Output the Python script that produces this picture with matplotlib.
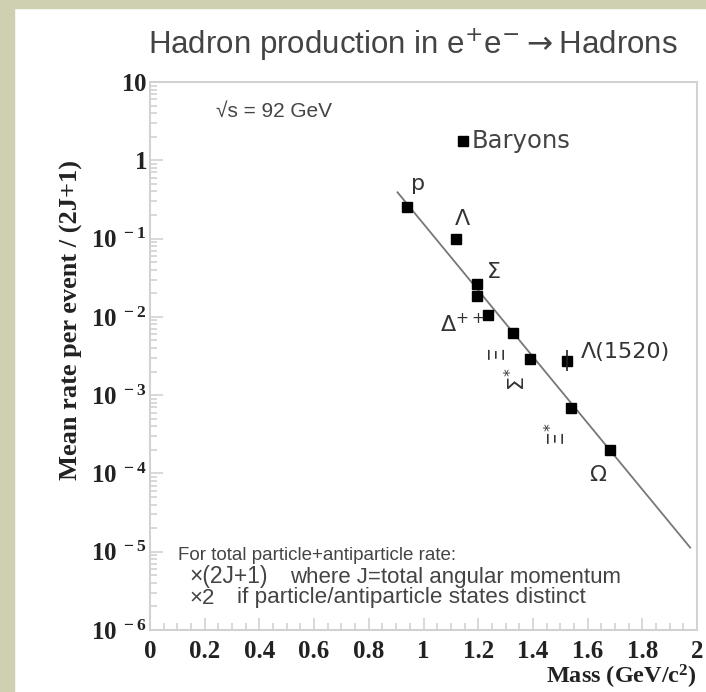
import numpy as np
import matplotlib
matplotlib.use("Agg")
import matplotlib.pyplot as plt
from matplotlib.patches import Rectangle
from matplotlib.ticker import FixedLocator, LogLocator, FuncFormatter, MultipleLocator

# Baryon data
names = ["p", "Lambda", "Sigma_a", "Sigma_b", "Delta++", "Xi", "Sigma*", "Lambda1520", "Xi*", "Omega"]
mass = [0.94, 1.119, 1.196, 1.196, 1.236, 1.327, 1.389, 1.524, 1.539, 1.682]
rate = [0.25, 0.099, 0.0263, 0.0185, 0.0106, 0.0062, 0.0029, 0.00274, 0.00069, 0.0002]

l1520_err_lo = [0.0007]
l1520_err_hi = [0.001]

# straight-line (exponential) trend drawn in the figure
fit_mass = [0.905, 1.975]
fit_rate = [0.39, 1.13e-5]

xticks = [0, 0.2, 0.4, 0.6, 0.8, 1, 1.2, 1.4, 1.6, 1.8, 2]
yticks = [1e-6, 1e-5, 1e-4, 1e-3, 1e-2, 1e-1, 1, 10]

plt.rcParams["mathtext.fontset"] = "custom"
plt.rcParams["mathtext.rm"] = "Liberation Serif:bold"
plt.rcParams["mathtext.bf"] = "Liberation Serif:bold"
plt.rcParams["mathtext.it"] = "Liberation Serif:bold"

fig = plt.figure(figsize=(7.06, 6.92), dpi=100)
fig.patch.set_facecolor("white")
khaki = "#cfcfb2"
fig.patches.append(Rectangle((0, 0), 14 / 706, 1, transform=fig.transFigure, color=khaki, zorder=-10))
fig.patches.append(Rectangle((0, 1 - 8 / 692), 1, 8 / 692, transform=fig.transFigure, color=khaki, zorder=-10))

ax = fig.add_axes([150 / 706, 1 - 630 / 692, 547 / 706, 548 / 692])
ax.set_yscale("log")
ax.set_xlim(0, 2)
ax.set_ylim(1e-6, 10)

gray = "#d2d2d2"
for s in ax.spines.values():
    s.set_color(gray)
    s.set_linewidth(1.5)

ax.plot(fit_mass, fit_rate, color="#777777", lw=1.3, zorder=2)
ax.plot(mass, rate, "s", color="black", ms=7, zorder=3)
i = names.index("Lambda1520")
ax.errorbar([mass[i]], [rate[i]], yerr=[l1520_err_lo, l1520_err_hi], fmt="none",
            ecolor="#222222", elinewidth=1.2, capsize=0, zorder=3)

ax.xaxis.set_major_locator(FixedLocator(xticks))
ax.xaxis.set_minor_locator(MultipleLocator(0.05))
ax.yaxis.set_major_locator(FixedLocator(yticks))
ax.yaxis.set_minor_locator(LogLocator(base=10, subs=np.arange(2, 10), numticks=20))


def ylab(v, pos):
    e = int(round(np.log10(v)))
    if e == 0:
        return r"$1^{\quad\,}$"
    if e == 1:
        return r"$10^{\quad\,}$"
    return r"$10^{\ %d}$" % e


ax.yaxis.set_major_formatter(FuncFormatter(ylab))
ax.xaxis.set_major_formatter(FuncFormatter(lambda v, p: "%g" % v))
ax.tick_params(which="both", direction="in", color=gray, width=1.2)
ax.tick_params(which="major", length=9)
ax.tick_params(which="minor", length=5)
ax.tick_params(axis="x", pad=7)
ax.tick_params(axis="y", pad=2)
for t in ax.get_xticklabels() + ax.get_yticklabels():
    t.set_fontfamily("Liberation Serif")
    t.set_fontweight("bold")
    t.set_fontsize(18)
    t.set_color("#222222")

ax.set_xlabel(r"Mass (GeV/c$^{2}$)", fontfamily="Liberation Serif", fontweight="bold",
              fontsize=17.5, color="#222222", ha="right", va="center")
ax.xaxis.set_label_coords(1.0, -47 / 548)
ax.set_ylabel("Mean rate per event / (2J+1)", fontfamily="Liberation Serif", fontweight="bold",
              fontsize=19, color="#222222")
ax.yaxis.set_label_coords(-0.122, 0.566)

txt = dict(fontfamily="Liberation Sans", color="#444444", math_fontfamily="dejavusans")
fig.text(413 / 706, 1 - 45 / 692, r"Hadron production in e$^{+}$e$^{-}$$\rightarrow$Hadrons",
         ha="center", va="center", fontsize=22.5, **txt)
ax.text(0.24, 4.2, "\u221as = 92 GeV", fontsize=15, va="center", **txt)
ax.plot([1.145], [1.75], "s", color="black", ms=7)
ax.text(1.175, 1.75, "Baryons", fontsize=17.5, va="center", fontfamily="DejaVu Sans", color="#444444")

lab = dict(fontsize=16, color="#333333", fontfamily="DejaVu Sans", math_fontfamily="dejavusans")
ax.text(0.955, 0.42, "p", **lab)
ax.text(1.114, 0.15, "\u039b", **lab)
ax.text(1.232, 0.031, "\u03a3", **lab)
ax.text(1.06, 0.0063, "\u0394$^{++}$", **lab)
ax.text(1.27, 0.0036, "\u039e", rotation=90, ha="center", va="center", **lab)
ax.text(1.34, 0.0016, "\u03a3$^{*}$", rotation=90, ha="center", va="center", **lab)
ax.text(1.486, 0.00032, "\u039e$^{*}$", rotation=90, ha="center", va="center", **lab)
ax.text(1.575, 0.0036, "\u039b(1520)", va="center", **lab)
ax.text(1.606, 0.0000965, "\u03a9", va="center", **lab)

# note block, placed line by line in pixel positions of the figure
def fpos(px, py):
    return px / 706, 1 - py / 692

fig.text(*fpos(178, 555), "For total particle+antiparticle rate:", fontsize=13.5, va="center", **txt)
fig.text(*fpos(189, 577), "\u00d7(2J+1)", fontsize=16.5, va="center", **txt)
fig.text(*fpos(290, 577), "where J=total angular momentum", fontsize=16, va="center", **txt)
fig.text(*fpos(189, 598), "\u00d72", fontsize=16, va="center", **txt)
fig.text(*fpos(237, 598), "if particle/antiparticle states distinct", fontsize=16.2, va="center", **txt)

fig.savefig("out.png", dpi=100)
